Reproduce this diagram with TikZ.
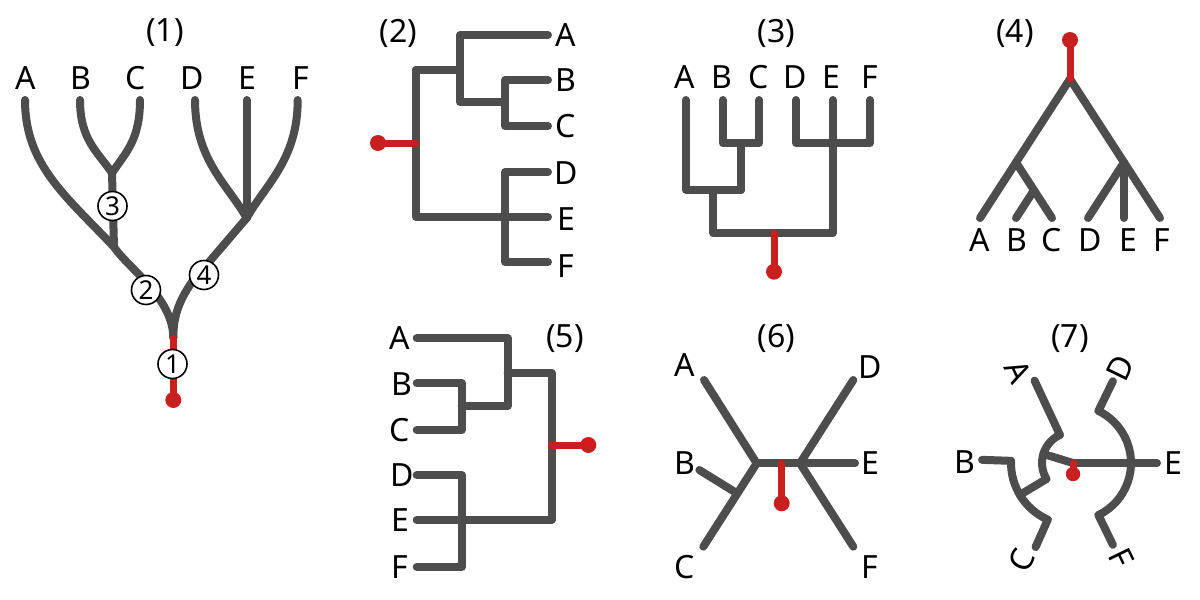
\documentclass[tikz,border=0pt]{standalone}
\usepackage{fontspec}
\setmainfont{Noto Sans}
\definecolor{brgray}{RGB}{77,77,77}
\definecolor{rootred}{RGB}{200,32,30}
\begin{document}
\begin{tikzpicture}[x=0.5pt,y=-0.5pt,
  br/.style={draw=brgray,line width=4pt,line cap=round,line join=round},
  rootline/.style={draw=rootred,line width=3.5pt,line cap=round},
  lab/.style={font=\fontsize{16}{19}\selectfont,inner sep=0pt},
  num/.style={circle,draw=black,line width=0.8pt,fill=white,inner sep=0pt,minimum size=14.5pt,font=\fontsize{13}{13}\selectfont},
]
\useasboundingbox (0,0) rectangle (1200,600);

% ---------------- Panel (1) ----------------
\node[lab] (t1) at (165,33) {(1)};
\coordinate (p1A) at (25,100);
\coordinate (p1B) at (80,100);
\coordinate (p1C) at (140,100);
\coordinate (p1D) at (195,100);
\coordinate (p1E) at (246.7,100);
\coordinate (p1F) at (297.7,100);
\coordinate (p1bc) at (112,173);
\coordinate (p1abc) at (114,247);
\coordinate (p1def) at (246.7,218);
\coordinate (p1r) at (173.3,338);
\coordinate (p1root) at (173.3,400);
\draw[br] (p1A) .. controls (25,165) and (66,196) .. (p1abc) .. controls (128,268) and (173.3,298) .. (p1r);
\draw[br] (p1B) .. controls (80,140) and (98,152) .. (p1bc);
\draw[br] (p1C) .. controls (140,140) and (126,152) .. (p1bc);
\draw[br] (p1bc) -- (p1abc);
\draw[br] (p1D) .. controls (195,160) and (228,185) .. (p1def);
\draw[br] (p1F) .. controls (297.7,160) and (265,185) .. (p1def);
\draw[br] (p1E) -- (p1def);
\draw[br] (p1def) -- (192,282) .. controls (178,302) and (173.3,318) .. (p1r);
\draw[rootline] (p1r) -- (p1root);
\fill[rootred] (p1root) circle[radius=4pt];
\node[num] (c1) at (172.5,364) {1};
\node[num] (c2) at (146,290) {2};
\node[num] (c3) at (112.5,206) {3};
\node[num] (c4) at (204,275) {4};
\node[lab] (l1A) at (25.7,78) {A};
\node[lab] (l1B) at (81,78) {B};
\node[lab] (l1C) at (135.7,78) {C};
\node[lab] (l1D) at (192.3,78) {D};
\node[lab] (l1E) at (247.3,78) {E};
\node[lab] (l1F) at (301,78) {F};

% ---------------- Panel (2) ----------------
\node[lab] (t2) at (398.3,33.3) {(2)};
\coordinate (p2A) at (548,35);
\coordinate (p2B) at (548,80);
\coordinate (p2C) at (548,126);
\coordinate (p2D) at (548,172);
\coordinate (p2E) at (548,217);
\coordinate (p2F) at (548,262);
\coordinate (p2abc) at (416,70);
\coordinate (p2def) at (416,217);
\coordinate (p2r) at (416,143);
\coordinate (p2root) at (378,143);
\draw[br] (p2A) -- (460,35) -- (460,102) -- (505,102);
\draw[br] (p2B) -- (505,80) -- (505,126) -- (p2C);
\draw[br] (p2abc) -- (460,70);
\draw[br] (p2abc) -- (p2def) -- (p2E);
\draw[br] (p2D) -- (505,172) -- (505,262) -- (p2F);
\draw[rootline] (p2r) -- (p2root);
\fill[rootred] (p2root) circle[radius=4pt];
\node[lab] (l2A) at (566,35) {A};
\node[lab] (l2B) at (566,80) {B};
\node[lab] (l2C) at (566,126.5) {C};
\node[lab] (l2D) at (566,173) {D};
\node[lab] (l2E) at (566,219) {E};
\node[lab] (l2F) at (566,266) {F};

% ---------------- Panel (3) ----------------
\node[lab] (t3) at (776.7,33.3) {(3)};
\coordinate (p3A) at (685.7,100);
\coordinate (p3B) at (722.7,100);
\coordinate (p3C) at (759.3,100);
\coordinate (p3D) at (796,100);
\coordinate (p3E) at (832.7,100);
\coordinate (p3F) at (870,100);
\coordinate (p3r) at (774,233.3);
\coordinate (p3root) at (774,271.7);
\draw[br] (p3B) -- (722.7,143.3) -- (759.3,143.3) -- (p3C);
\draw[br] (741,143.3) -- (741,190);
\draw[br] (p3A) -- (685.7,190) -- (741,190);
\draw[br] (713.3,190) -- (713.3,233.3) -- (832.7,233.3) -- (p3E);
\draw[br] (p3D) -- (796,143.3) -- (870,143.3) -- (p3F);
\draw[rootline] (p3r) -- (p3root);
\fill[rootred] (p3root) circle[radius=4pt];
\node[lab] (l3A) at (685,76.7) {A};
\node[lab] (l3B) at (721.7,76.7) {B};
\node[lab] (l3C) at (758.3,76.7) {C};
\node[lab] (l3D) at (795,76.7) {D};
\node[lab] (l3E) at (831.7,76.7) {E};
\node[lab] (l3F) at (870,76.7) {F};

% ---------------- Panel (4) ----------------
\node[lab] (t4) at (1015,33.3) {(4)};
\coordinate (p4A) at (980,218);
\coordinate (p4B) at (1016,218);
\coordinate (p4C) at (1052,218);
\coordinate (p4D) at (1088,218);
\coordinate (p4E) at (1124,218);
\coordinate (p4F) at (1160,218);
\coordinate (p4r) at (1070,79);
\coordinate (p4root) at (1070,40);
\coordinate (p4abc) at (1016,162.4);
\coordinate (p4bc) at (1034,190.2);
\coordinate (p4def) at (1124,162.4);
\draw[br] (p4A) -- (p4r) -- (p4F);
\draw[br] (p4abc) -- (p4C);
\draw[br] (p4bc) -- (p4B);
\draw[br] (p4def) -- (p4D);
\draw[br] (p4def) -- (p4E);
\draw[rootline] (p4r) -- (p4root);
\fill[rootred] (p4root) circle[radius=4pt];
\node[lab] (l4A) at (980,240) {A};
\node[lab] (l4B) at (1016.7,240) {B};
\node[lab] (l4C) at (1051.7,240) {C};
\node[lab] (l4D) at (1090,240) {D};
\node[lab] (l4E) at (1128.3,240) {E};
\node[lab] (l4F) at (1161.7,240) {F};

% ---------------- Panel (5) ----------------
\node[lab] (t5) at (565,338.3) {(5)};
\coordinate (p5A) at (416.7,338.3);
\coordinate (p5B) at (416.7,383.3);
\coordinate (p5C) at (416.7,430);
\coordinate (p5D) at (416.7,475);
\coordinate (p5E) at (416.7,520);
\coordinate (p5F) at (416.7,566.7);
\coordinate (p5r) at (551.7,445);
\coordinate (p5root) at (588.3,445);
\draw[br] (p5A) -- (507.7,338.3) -- (507.7,406) -- (461.7,406);
\draw[br] (p5B) -- (461.7,383.3) -- (461.7,430) -- (p5C);
\draw[br] (507.7,373) -- (551.7,373) -- (551.7,520) -- (p5E);
\draw[br] (p5D) -- (461.7,475) -- (461.7,566.7) -- (p5F);
\draw[rootline] (p5r) -- (p5root);
\fill[rootred] (p5root) circle[radius=4pt];
\node[lab] (l5A) at (400,338.3) {A};
\node[lab] (l5B) at (401.7,384) {B};
\node[lab] (l5C) at (400,430) {C};
\node[lab] (l5D) at (401.7,475) {D};
\node[lab] (l5E) at (400,520) {E};
\node[lab] (l5F) at (400,566.7) {F};

% ---------------- Panel (6) ----------------
\node[lab] (t6) at (776.7,338.3) {(6)};
\coordinate (p6A) at (704,380);
\coordinate (p6B) at (699.3,470);
\coordinate (p6C) at (703.3,546.7);
\coordinate (p6D) at (853.3,380);
\coordinate (p6E) at (855,463.3);
\coordinate (p6F) at (853.3,546.7);
\coordinate (p6l) at (756.7,463.3);
\coordinate (p6rr) at (800,463.3);
\coordinate (p6bc) at (737,493.3);
\coordinate (p6r) at (781.7,463.3);
\coordinate (p6root) at (781.7,503.3);
\draw[br] (p6A) -- (p6l) -- (p6C);
\draw[br] (p6B) -- (p6bc);
\draw[br] (p6l) -- (p6rr) -- (p6E);
\draw[br] (p6D) -- (p6rr) -- (p6F);
\draw[rootline] (p6r) -- (p6root);
\fill[rootred] (p6root) circle[radius=4pt];
\node[lab] (l6A) at (685,365) {A};
\node[lab] (l6B) at (685,463.3) {B};
\node[lab] (l6C) at (685,566.7) {C};
\node[lab] (l6D) at (870,366.7) {D};
\node[lab] (l6E) at (870,463.3) {E};
\node[lab] (l6F) at (870,566.7) {F};

% ---------------- Panel (7) ----------------
\node[lab] (t7) at (1070,338.3) {(7)};
\begin{scope}[shift={(1073,463)},x=0.5pt,y=0.5pt]
\coordinate (p7o) at (0,0);
\coordinate (p7abc) at (163:31);
\coordinate (p7a1) at (115:31);
\coordinate (p7A) at (115:91);
\coordinate (p7bc1) at (211:31);
\coordinate (p7bc2) at (211:62);
\coordinate (p7b1) at (178:62);
\coordinate (p7B) at (178:91);
\coordinate (p7c1) at (246:62);
\coordinate (p7C) at (246:92);
\coordinate (p7d1) at (64:58);
\coordinate (p7D) at (64:91);
\coordinate (p7f1) at (-64:58);
\coordinate (p7F) at (-64:91);
\coordinate (p7E) at (0:84);
\coordinate (p7root) at (-90:11);
\draw[br] (p7o) -- (p7abc);
\draw[br] (p7a1) arc[start angle=115,end angle=211,radius=15.5pt];
\draw[br] (p7a1) -- (p7A);
\draw[br] (p7bc1) -- (p7bc2);
\draw[br] (p7b1) arc[start angle=178,end angle=246,radius=31pt];
\draw[br] (p7b1) -- (p7B);
\draw[br] (p7c1) -- (p7C);
\draw[br] (p7o) -- (p7E);
\draw[br] (p7f1) arc[start angle=-64,end angle=64,radius=29pt];
\draw[br] (p7d1) -- (p7D);
\draw[br] (p7f1) -- (p7F);
\draw[rootline] (p7o) -- (p7root);
\fill[rootred] (p7root) circle[radius=3.6pt];
\end{scope}
\node[lab,rotate=-64] (l7A) at (1018.3,371.7) {A};
\node[lab] (l7B) at (965,461.7) {B};
\node[lab,rotate=64] (l7C) at (1021.7,560) {C};
\node[lab,rotate=64] (l7D) at (1120,368.3) {D};
\node[lab] (l7E) at (1173,463) {E};
\node[lab,rotate=-64] (l7F) at (1121.7,558.3) {F};
\end{tikzpicture}
\end{document}
